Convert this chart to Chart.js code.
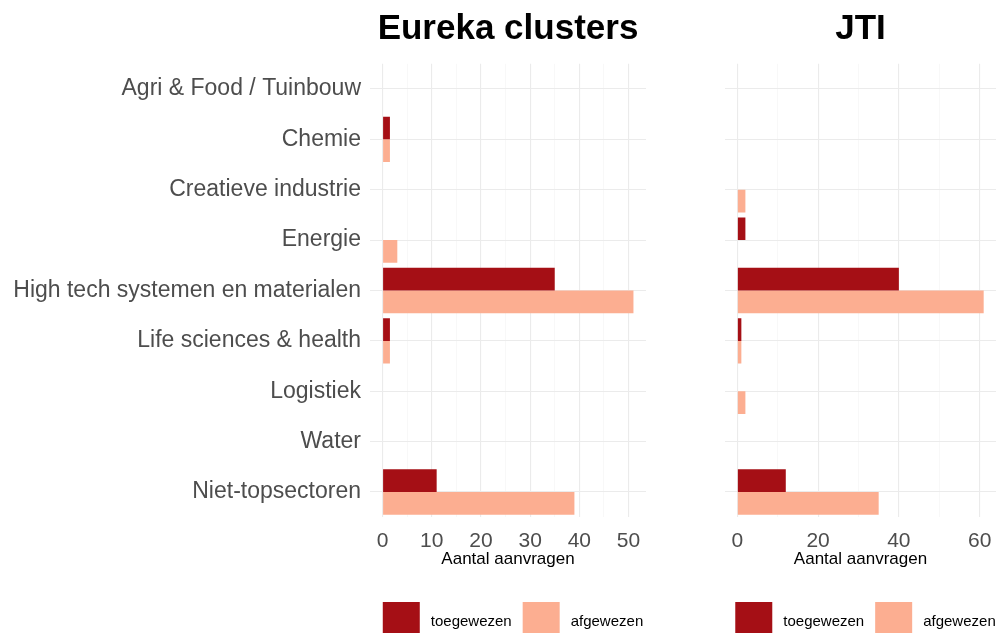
<!DOCTYPE html>
<html>
<head>
<meta charset="utf-8">
<script src="https://cdn.jsdelivr.net/npm/chart.js@4"></script>
<style>
  body { margin: 0; background: #fff; }
  #wrap { position: relative; width: 996px; height: 633px; overflow: hidden; }
  .panel { position: absolute; top: 0; }
</style>
</head>
<body>
<div id="wrap">
  <div class="panel" style="left:0px"><canvas id="eurekaCanvas" width="650" height="633"></canvas></div>
  <div class="panel" style="left:700px"><canvas id="jtiCanvas" width="296" height="633"></canvas></div>
</div>
<script>
const categories = [
  'Agri & Food / Tuinbouw',
  'Chemie',
  'Creatieve industrie',
  'Energie',
  'High tech systemen en materialen',
  'Life sciences & health',
  'Logistiek',
  'Water',
  'Niet-topsectoren'
];
const seriesNames = ['toegewezen', 'afgewezen'];

// Eureka clusters
const eurekaToegewezen = [0, 1.5, 0, 0, 35, 1.5, 0, 0, 11];
const eurekaAfgewezen  = [0, 1.5, 0, 3, 51, 1.5, 0, 0, 39];
const eurekaTicks = [0, 10, 20, 30, 40, 50];

// JTI
const jtiToegewezen = [0, 0, 0, 2, 40, 1, 0, 0, 12];
const jtiAfgewezen  = [0, 0, 2, 0, 61, 1, 2, 0, 35];
const jtiTicks = [0, 20, 40, 60];

const colDark = '#A50F15';
const colLight = '#FCAE91';
const fontFam = '"Liberation Sans", Arial, sans-serif';
const axisTitle = 'Aantal aanvragen';

// title, x-axis title and legend, drawn relative to the plot area
const extrasPlugin = {
  id: 'extras',
  afterDraw(chart, args, opts) {
    const ctx = chart.ctx;
    const area = chart.chartArea;
    const cx = (area.left + area.right) / 2;
    ctx.save();
    ctx.fillStyle = '#000';
    ctx.textAlign = 'center';
    ctx.textBaseline = 'alphabetic';
    ctx.font = 'bold 35px ' + fontFam;
    ctx.fillText(opts.title, cx, 39);
    ctx.font = '17px ' + fontFam;
    ctx.fillText(axisTitle, cx, 564);

    // legend
    ctx.font = '15px ' + fontFam;
    const box = 37, gap = 11;
    const w0 = ctx.measureText(seriesNames[0]).width;
    const w1 = ctx.measureText(seriesNames[1]).width;
    const total = box + gap + w0 + gap + box + gap + w1;
    let x = cx + 5 - total / 2;
    const y = 602;
    ctx.textAlign = 'left';
    ctx.textBaseline = 'middle';
    ctx.fillStyle = colDark;
    ctx.fillRect(x, y, box, box);
    x += box + gap;
    ctx.fillStyle = '#000';
    ctx.fillText(seriesNames[0], x, 622);
    x += w0 + gap;
    ctx.fillStyle = colLight;
    ctx.fillRect(x, y, box, box);
    x += box + gap;
    ctx.fillStyle = '#000';
    ctx.fillText(seriesNames[1], x, 622);
    ctx.restore();
  }
};

function makeChart(canvasId, title, toeg, afg, ticks, minorStep, showLabels, padLeft, padRight) {
  const maxVal = Math.max(...toeg, ...afg);
  const expand = maxVal * 0.05;
  const allTicks = [];
  for (let v = 0; v <= ticks[ticks.length - 1]; v += minorStep) allTicks.push(v);
  const majorStep = ticks[1] - ticks[0];

  return new Chart(document.getElementById(canvasId), {
    type: 'bar',
    data: {
      labels: categories,
      datasets: [
        { label: seriesNames[0], data: toeg, backgroundColor: colDark, borderWidth: 0 },
        { label: seriesNames[1], data: afg, backgroundColor: colLight, borderWidth: 0 }
      ]
    },
    options: {
      indexAxis: 'y',
      responsive: false,
      animation: false,
      devicePixelRatio: 1,
      categoryPercentage: 0.9,
      barPercentage: 1.0,
      layout: { padding: { top: 63.8, bottom: 0, left: padLeft, right: padRight } },
      plugins: {
        legend: { display: false },
        tooltip: { enabled: false },
        extras: { title: title }
      },
      scales: {
        x: {
          type: 'linear',
          min: -expand,
          max: maxVal + expand,
          afterBuildTicks: (scale) => {
            scale.ticks = allTicks.map(v => ({ value: v }));
          },
          afterFit: (scale) => {
            scale.height = 115.8;
            scale.paddingLeft = 0;
            scale.paddingRight = 0;
          },
          ticks: {
            autoSkip: false,
            maxRotation: 0,
            padding: 11,
            color: '#4D4D4D',
            font: { family: fontFam, size: 21 },
            callback: (v) => (v % majorStep === 0 ? String(v) : '')
          },
          grid: {
            drawTicks: false,
            color: (c) => (c.tick && c.tick.value % majorStep === 0 ? '#EBEBEB' : '#F3F3F3'),
            lineWidth: (c) => (c.tick && c.tick.value % majorStep === 0 ? 1.1 : 0.6)
          },
          border: { display: false }
        },
        y: {
          type: 'category',
          offset: true,
          afterFit: (scale) => { if (showLabels) scale.width = 370; },
          ticks: {
            display: showLabels,
            padding: 9,
            color: '#4D4D4D',
            font: { family: fontFam, size: 23 }
          },
          grid: { offset: false, drawTicks: false, color: '#EBEBEB', lineWidth: 1.1 },
          border: { display: false }
        }
      }
    },
    plugins: [extrasPlugin]
  });
}

makeChart('eurekaCanvas', 'Eureka clusters', eurekaToegewezen, eurekaAfgewezen, eurekaTicks, 5, true, 0, 4);
makeChart('jtiCanvas', 'JTI', jtiToegewezen, jtiAfgewezen, jtiTicks, 10, false, 25, 0);
</script>
</body>
</html>
